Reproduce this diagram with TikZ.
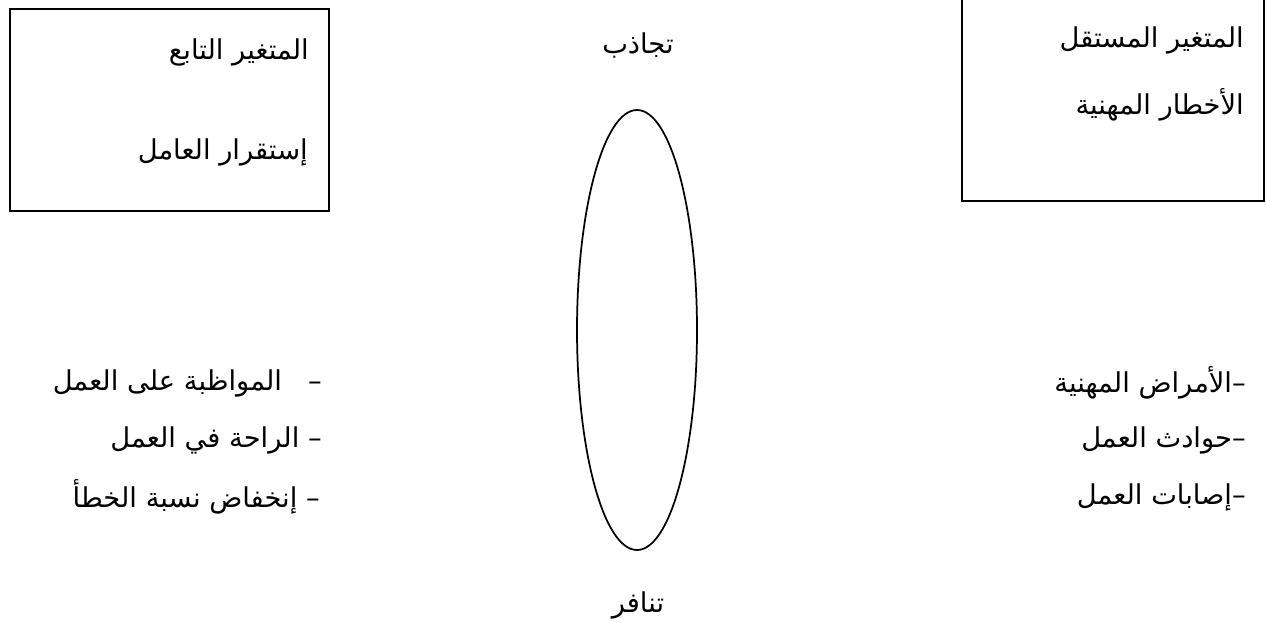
\documentclass[tikz,border=0pt]{standalone}
\usepackage{fontspec}
\usetikzlibrary{shapes.geometric}
\newfontfamily\arabicfont[Script=Arabic]{DejaVu Sans}
\TeXXeTstate=1
\begin{document}
\begin{tikzpicture}[x=0.75pt,y=-0.75pt,
  ar/.style={font=\arabicfont\fontsize{20.5}{25}\selectfont, inner sep=0pt},
  box/.style={draw, line width=1.5pt, inner sep=0pt}]
\useasboundingbox (0,0) rectangle (1266,622);
% boxes
\node[box, minimum width=239.25pt, minimum height=151.5pt] (depbox) at (169.5,109.5) {};
\node[box, minimum width=226.5pt, minimum height=156pt] (indbox) at (1113,97) {};
\node[ar, anchor=east] (dep1) at (309,52) {\beginR المتغير التابع\endR};
\node[ar, anchor=east] (dep2) at (308,152) {\beginR إستقرار العامل\endR};
\node[ar, anchor=east] (ind1) at (1244,40) {\beginR المتغير المستقل\endR};
\node[ar, anchor=east] (ind2) at (1244,105) {\beginR الأخطار المهنية\endR};
% ellipse and labels
\node[draw, ellipse, line width=1.3pt, inner sep=0pt, minimum width=90pt, minimum height=330pt] (el) at (637,330) {};
\node[ar] (attract) at (638,45) {\beginR تجاذب\endR};
\node[ar] (repel) at (638,605) {\beginR تنافر\endR};
% left list
\node[ar, anchor=east] (l1) at (322,383) {\beginR –\ \ \ المواظبة على العمل\endR};
\node[ar, anchor=east] (l2) at (322,440) {\beginR – الراحة في العمل\endR};
\node[ar, anchor=east] (l3) at (320,497) {\beginR – إنخفاض نسبة الخطأ\endR};
% right list
\node[ar, anchor=east] (r1) at (1246,383) {\beginR –الأمراض المهنية\endR};
\node[ar, anchor=east] (r2) at (1246,440) {\beginR –حوادث العمل\endR};
\node[ar, anchor=east] (r3) at (1246,497) {\beginR –إصابات العمل\endR};
\end{tikzpicture}
\end{document}
